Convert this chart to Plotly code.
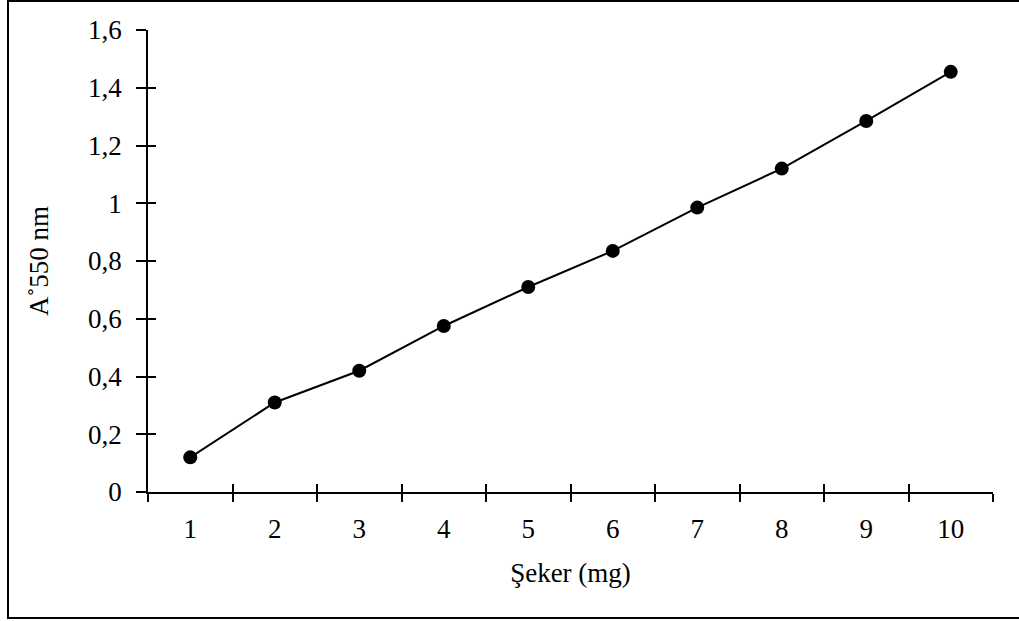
import plotly.graph_objects as go

categories = [1, 2, 3, 4, 5, 6, 7, 8, 9, 10]
absorbance = [0.12, 0.31, 0.42, 0.575, 0.71, 0.835, 0.985, 1.12, 1.285, 1.455]
y_ticks = [0, 0.2, 0.4, 0.6, 0.8, 1.0, 1.2, 1.4, 1.6]
x_title = "Şeker (mg)"
y_title = "A˚550 nm"

FONT = "Liberation Serif"
FS = 27
W, H = 1019, 621
L, R, T, B = 148, 26, 30, 129
pw, ph = W - L - R, H - T - B

fig = go.Figure()
fig.add_trace(go.Scatter(
    x=categories, y=absorbance, mode="lines+markers",
    line=dict(color="black", width=2),
    marker=dict(color="black", size=14),
    showlegend=False, xaxis="x", yaxis="y",
))
# invisible trace to activate overlay axes
fig.add_trace(go.Scatter(x=[categories[0]], y=[absorbance[0]], mode="markers",
                         marker=dict(opacity=0), showlegend=False, hoverinfo="skip",
                         xaxis="x2", yaxis="y2"))

xr = [0.5, 10.5]
yr = [0, 1.6]
fig.update_layout(
    template="none",
    width=W, height=H,
    margin=dict(l=L, r=R, t=T, b=B),
    paper_bgcolor="white", plot_bgcolor="white",
    separators=",.",
    font=dict(family=FONT, size=FS, color="black"),
    xaxis=dict(
        range=xr, tickmode="array", tickvals=categories,
        ticktext=[str(c) for c in categories],
        tickfont=dict(family=FONT, size=FS, color="black"),
        ticks="", showgrid=False, zeroline=False,
        showline=True, linecolor="black", linewidth=1.5,
        minor=dict(ticks="outside", tick0=0.5, dtick=1, ticklen=8,
                   tickcolor="black", tickwidth=1.5, showgrid=False),
        ticklabelstandoff=12,
        title=dict(text=x_title, standoff=20,
                   font=dict(family=FONT, size=FS, color="black")),
    ),
    yaxis=dict(
        range=yr, tickmode="array", tickvals=y_ticks,
        tickfont=dict(family=FONT, size=FS, color="black"),
        ticks="outside", ticklen=10, tickcolor="black", tickwidth=1.5,
        showgrid=False, zeroline=False,
        showline=True, linecolor="black", linewidth=1.5,
        ticklabelstandoff=9,
        title=dict(text=y_title, standoff=32,
                   font=dict(family=FONT, size=FS, color="black")),
    ),
    xaxis2=dict(
        range=xr, overlaying="x", tickmode="linear", tick0=0.5, dtick=1,
        ticks="inside", ticklen=8, tickcolor="black", tickwidth=1.5,
        showticklabels=False, showgrid=False, zeroline=False, showline=False,
    ),
    yaxis2=dict(
        range=yr, overlaying="y", tickmode="array", tickvals=y_ticks,
        ticks="inside", ticklen=8, tickcolor="black", tickwidth=1.5,
        showticklabels=False, showgrid=False, zeroline=False, showline=False,
    ),
)

# outer chart border
fig.add_shape(type="rect", xref="paper", yref="paper",
              x0=(8 - L) / pw, x1=(1022 - L) / pw,
              y0=(H - B - 618) / ph, y1=(H - B - 1) / ph,
              line=dict(color="black", width=2), fillcolor="rgba(0,0,0,0)", layer="below")

fig.write_html("out.html")
